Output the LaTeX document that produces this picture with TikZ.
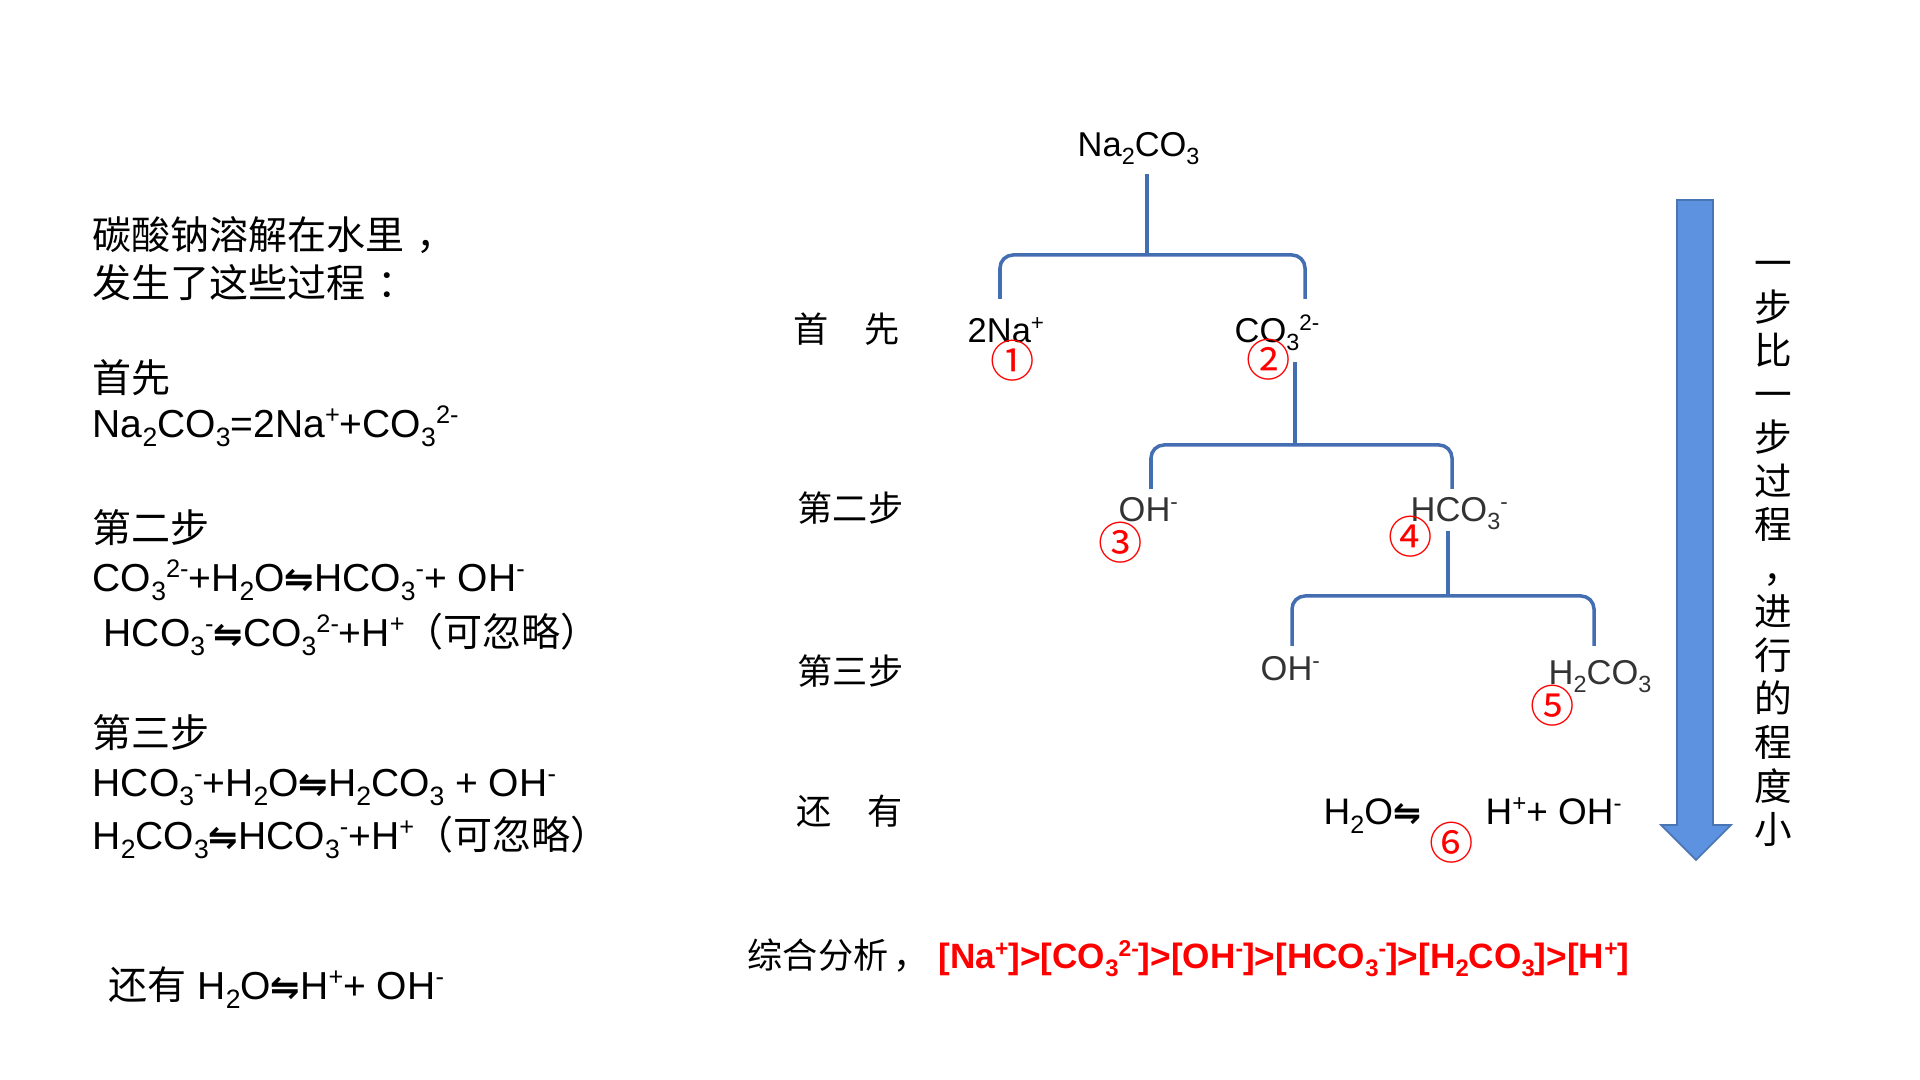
\documentclass[tikz,border=0pt]{standalone}
\usepackage{graphicx}
\usepackage{fontspec}
\setmainfont{Liberation Sans}
\newfontfamily\cjk{Noto Sans CJK SC}
\newfontfamily\arrfont{DejaVu Sans}
\usetikzlibrary{positioning}
\definecolor{treeblue}{RGB}{68,110,178}
\definecolor{arrowblue}{RGB}{92,146,224}
\newcommand{\csub}[1]{\raisebox{-.22em}{\scalebox{.68}{#1}}}
\newcommand{\csup}[1]{\raisebox{.36em}{\scalebox{.65}{#1}}}
\newcommand{\eqarr}{{\arrfont\bfseries\scalebox{.9}{⇋}}}

\begin{document}
\begin{tikzpicture}[x=0.01cm,y=-0.01cm,
  note/.style={anchor=base west,inner sep=0pt,font=\fontsize{11.1}{13.4}\selectfont},
  stage/.style={anchor=base west,inner sep=0pt,font=\cjk\fontsize{10}{12}\selectfont},
  ion/.style={anchor=base west,inner sep=0pt,font=\fontsize{9.8}{11.8}\selectfont},
  ionlt/.style={ion,text=black!80},
  num/.style={inner sep=0pt,text=red,font=\cjk\fontsize{12.6}{12.6}\selectfont},
  branch/.style={draw=treeblue,line width=1pt,rounded corners=3.7pt}]
  \fill[white] (0,0) rectangle (1920,1080);
  \useasboundingbox (0,0) rectangle (1920,1080);

  % left column
  \node[note] (intro1) at (92,250) {\cjk 碳酸钠溶解在水里\hspace{.3em}，};
  \node[note] (intro2) at (92,298) {\cjk 发生了这些过程\hspace{.3em}：};
  \node[note] (firsthd) at (92,393) {\cjk 首先};
  \node[note] (eqa) at (92,438) {Na\csub{2}CO\csub{3}=2Na\csup{+}+CO\csub{3}\csup{2-}};
  \node[note] (secondhd) at (92,543) {\cjk 第二步};
  \node[note] (eqb) at (92,592) {CO\csub{3}\csup{2-}+H\csub{2}O\eqarr HCO\csub{3}\csup{-}+ OH\csup{-}};
  \node[note] (eqc) at (103,647) {HCO\csub{3}\csup{-}\eqarr CO\csub{3}\csup{2-}+H\csup{+}{\cjk （可忽略）}};
  \node[note] (thirdhd) at (92,748) {\cjk 第三步};
  \node[note] (eqd) at (92,797) {HCO\csub{3}\csup{-}+H\csub{2}O\eqarr H\csub{2}CO\csub{3} + OH\csup{-}};
  \node[note] (eqe) at (92,850) {H\csub{2}CO\csub{3}\eqarr HCO\csub{3}\csup{-}+H\csup{+}{\cjk （可忽略）}};
  \node[note] (eqf) at (108,1000) {{\cjk 还有} H\csub{2}O\eqarr H\csup{+}+ OH\csup{-}};

  % stage labels
  \node[stage] (st1) at (793,343) {首　先};
  \node[stage] (st2) at (797,522) {第二步};
  \node[stage] (st3) at (797,685) {第三步};
  \node[stage] (st4) at (796,825) {还　有};

  % tree
  \node[ion] (na2co3) at (1077,157) {Na\csub{2}CO\csub{3}};
  \node[ion] (na) at (967,343) {2Na\csup{+}};
  \node[ion] (co3) at (1234,343) {CO\csub{3}\csup{2-}};
  \node[ionlt] (oha) at (1118,522) {OH\csup{-}};
  \node[ionlt] (hco3) at (1410,522) {HCO\csub{3}\csup{-}};
  \node[ionlt] (ohb) at (1260,681) {OH\csup{-}};
  \node[ionlt] (h2co3) at (1548,685) {H\csub{2}CO\csub{3}};
  \node[ion,font=\fontsize{10.5}{12.6}\selectfont] (water) at (1323,825) {H\csub{2}O\eqarr};
  \node[ion,font=\fontsize{10.5}{12.6}\selectfont] (wions) at (1485,825) {H\csup{+}+ OH\csup{-}};

  \node[num] (c1) at (1013,361) {①};
  \node[num] (c2) at (1269,360) {②};
  \node[num] (c3) at (1121,543) {③};
  \node[num] (c4) at (1411,537) {④};
  \node[num] (c5) at (1553,706) {⑤};
  \node[num] (c6) at (1452,843) {⑥};

  \coordinate (j1) at (1147,255);
  \coordinate (j1l) at (1000,299);
  \coordinate (j1r) at (1305,299);
  \coordinate (j2) at (1295,445);
  \coordinate (j2l) at (1151,489);
  \coordinate (j2r) at (1452,489);
  \coordinate (j3) at (1448,596);
  \coordinate (j3l) at (1292,646);
  \coordinate (j3r) at (1594,646);

  \draw[branch,shorten <=2.5pt] (na2co3.south -| j1) -- (j1);
  \draw[branch] (j1l) |- (j1) -| (j1r);
  \draw[branch,shorten <=3pt] (co3.south -| j2) -- (j2);
  \draw[branch] (j2l) |- (j2) -| (j2r);
  \draw[branch] (hco3.south -| j3) -- (j3);
  \draw[branch] (j3l) |- (j3) -| (j3r);

  % big arrow and side note
  \fill[arrowblue,draw=arrowblue!80!black,line width=.5pt]
    (1677,200) -- (1713,200) -- (1713,825) -- (1731,825) -- (1696,860)
    -- (1661,825) -- (1677,825) -- cycle;
  \node[align=center,inner sep=0pt,font=\cjk\fontsize{10.7}{12.38}\selectfont] (side) at (1773,554)
    {一\\步\\比\\一\\步\\过\\程\\\hspace*{.5em}，\\进\\行\\的\\程\\度\\小};

  % summary
  \node[anchor=base west,inner sep=0pt,font=\fontsize{10}{12}\selectfont] (summary) at (747,969)
    {{\cjk 综合分析\hspace{.15em}，} {\bfseries\color{red}[Na\csup{+}]>[CO\csub{3}\csup{2-}]>[OH\csup{-}]>[HCO\csub{3}\csup{-}]>[H\csub{2}CO\csub{3}]>[H\csup{+}]}};
\end{tikzpicture}
\end{document}
